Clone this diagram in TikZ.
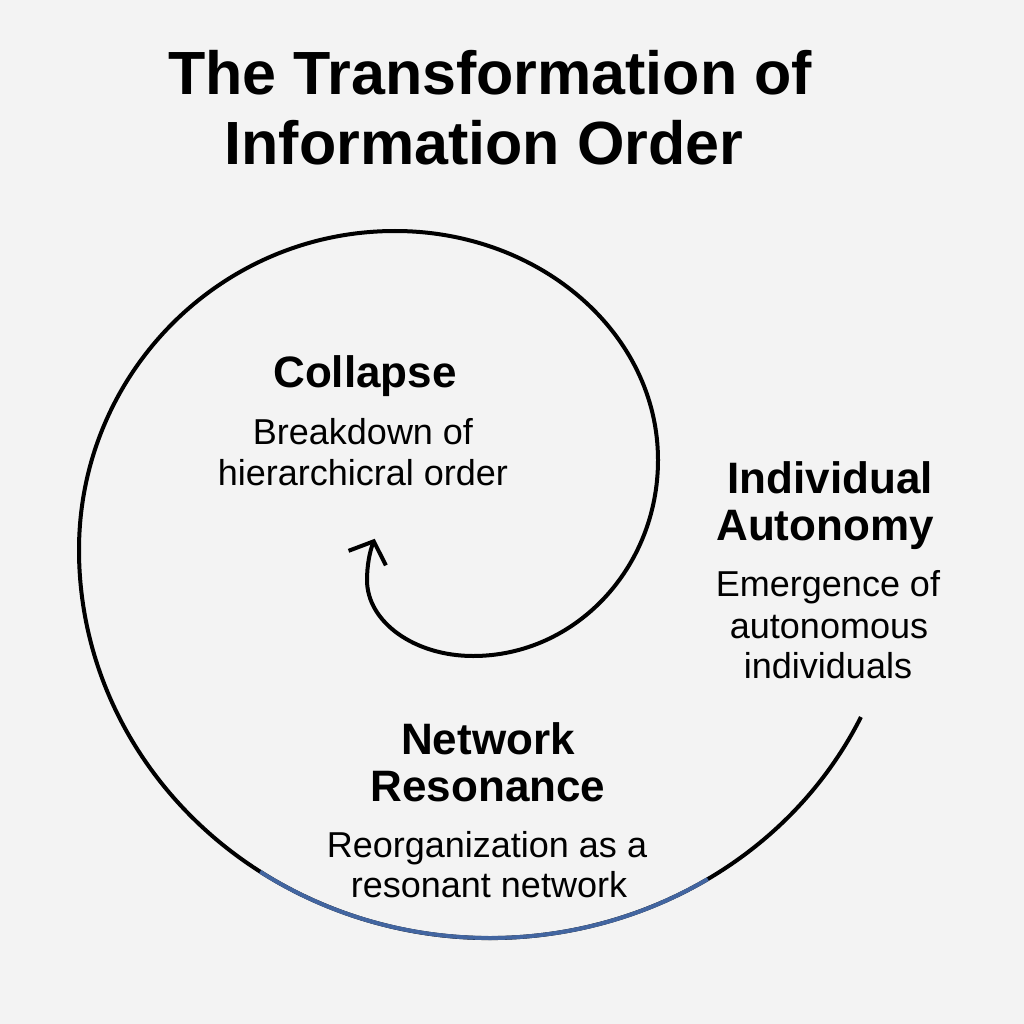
\documentclass[tikz,border=0pt]{standalone}
\usepackage{fontspec}
\setmainfont{Liberation Sans}
\usetikzlibrary{arrows.meta}
\definecolor{bgcol}{HTML}{F3F3F3}
\definecolor{spblue}{RGB}{66,101,160}
\begin{document}
\begin{tikzpicture}[x=1pt,y=-1pt,
  titletext/.style={font=\fontsize{61}{70}\selectfont\bfseries,anchor=base,inner sep=0pt},
  headtext/.style={font=\fontsize{44}{48}\selectfont\bfseries,anchor=base,inner sep=0pt},
  bodytext/.style={font=\fontsize{36}{40}\selectfont,anchor=base,inner sep=0pt},
  spiral/.style={line width=4pt,black},
  accent/.style={line width=4pt,spblue}]
\fill[bgcol] (0,0) rectangle (1024,1024);
\useasboundingbox (0,0) rectangle (1024,1024);

% title
\node[titletext] (t1) at (490,95) {The Transformation of};
\node[titletext] (t2) at (484,165) {Information Order};

% spiral
\coordinate (ctr) at (490,550);
\coordinate (start) at ([shift={(25.5:411 and 388)}]ctr);
\coordinate (blueA) at ([shift={(58:411 and 388)}]ctr);
\draw[spiral,-{Straight Barb[length=18pt,width=40pt]}] (start)
  arc[start angle=25.5,end angle=180,x radius=411,y radius=388]
  arc[start angle=180,end angle=270,x radius=316,y radius=319]
  arc[start angle=270,end angle=360,x radius=263,y radius=229]
  arc[start angle=0,end angle=90,x radius=185,y radius=196]
  arc[start angle=90,end angle=180,x radius=106,y radius=76]
  arc[start angle=180,end angle=202,x radius=106,y radius=110] coordinate (tip);
\draw[accent] (blueA) arc[start angle=58,end angle=124,x radius=411,y radius=388];

% Collapse
\node[headtext] (c1) at (365,387) {Collapse};
\node[bodytext] (c2) at (363,444) {Breakdown of};
\node[bodytext] (c3) at (363,485) {hierarchicral order};

% Individual Autonomy
\node[headtext] (a1) at (830,493) {Individual};
\node[headtext] (a2) at (825,540) {Autonomy};
\node[bodytext] (a3) at (828,596) {Emergence of};
\node[bodytext] (a4) at (829,638) {autonomous};
\node[bodytext] (a5) at (828,678) {individuals};

% Network Resonance
\node[headtext] (n1) at (488,754) {Network};
\node[headtext] (n2) at (488,801) {Resonance};
\node[bodytext] (n3) at (487,857) {Reorganization as a};
\node[bodytext] (n4) at (489,897) {resonant network};
\end{tikzpicture}
\end{document}
